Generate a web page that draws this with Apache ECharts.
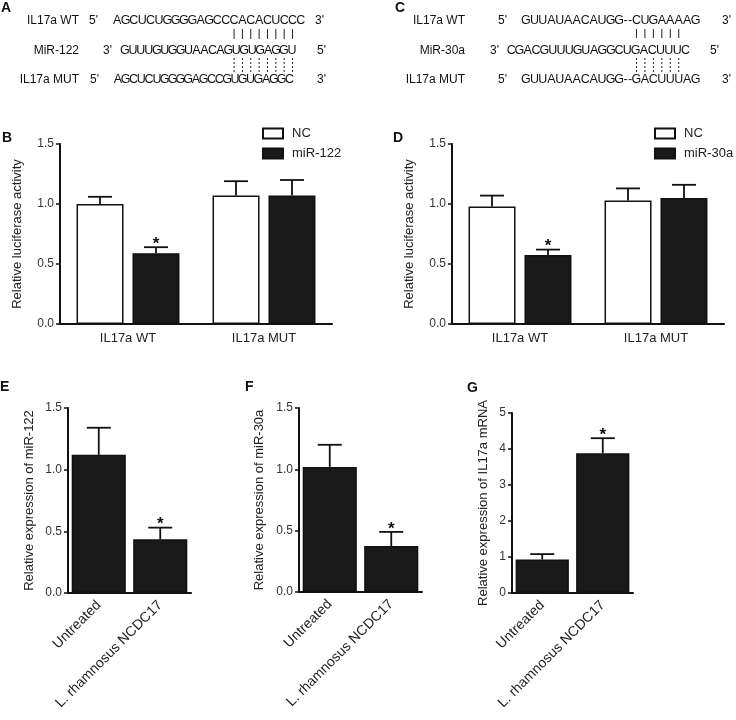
<!DOCTYPE html>
<html>
<head>
<meta charset="utf-8">
<script src="https://cdn.jsdelivr.net/npm/echarts@6/dist/echarts.min.js"></script>
<style>
    html, body { margin: 0; background: #fff; }
    #chart { width: 736px; height: 720px; }
</style>
</head>
<body>
<div id="chart"></div>
<script>
// ---- data ----
const lucCategories = ['IL17a WT', 'IL17a MUT'];
const exprCategories = ['Untreated', 'L. rhamnosus NCDC17'];

// panel B
const ncB = [1.00, 1.07];
const ncBErr = [0.06, 0.12];
const mir122B = [0.59, 1.07];
const mir122BErr = [0.05, 0.13];
const mir122BStar = [1, 0];

// panel D
const ncD = [0.98, 1.03];
const ncDErr = [0.09, 0.10];
const mir30aD = [0.575, 1.05];
const mir30aDErr = [0.045, 0.11];
const mir30aDStar = [1, 0];

// panel E, F, G
const mir122E = [1.12, 0.435];
const mir122EErr = [0.22, 0.095];
const mir30aF = [1.02, 0.375];
const mir30aFErr = [0.18, 0.115];
const il17aG = [0.93, 3.88];
const il17aGErr = [0.15, 0.42];
const starEFG = [0, 1];

// sequences
const seqA_wt = 'AGCUCUGGGGAGCCCACACUCCC';
const seqA_mir = 'GUUUGUGGUAACAGUGUGAGGU';
const seqA_mut = 'AGCUCUGGGGAGCCGUGUGAGGC';
const pairA = [14, 21];
const seqC_wt = 'GUUAUAACAUGG--CUGAAAAG';
const seqC_mir = 'CGACGUUUGUAGGCUGACUUUC';
const seqC_mut = 'GUUAUAACAUGG--GACUUUAG';
const pairC = [14, 19];

// ---- style ----
const FONT = '"Liberation Sans", Arial, sans-serif';
const INK = '#111';
const BAR_W = 47, BAR_GAP = 9, CAP = 24;

const myChart = echarts.init(document.getElementById('chart'));

function txt(text, x, y, opt) {
    return {
        type: 'text', x: x, y: y, silent: true,
        style: Object.assign({
            text: text, fill: INK, fontSize: 12, fontFamily: FONT,
            align: 'left', verticalAlign: 'middle'
        }, opt || {})
    };
}

// one text element per letter, so the pairing lines can sit on the letters
function seqRow(str, x0, y, pitch, dashPitch) {
    const els = [], centers = [];
    let x = x0;
    for (const ch of str) {
        const w = ch === '-' ? dashPitch : pitch;
        centers.push(x + w / 2);
        els.push(txt(ch, x + w / 2, y, {align: 'center', fontSize: 12.5}));
        x += w;
    }
    return {els, centers};
}

function pairLines(centers, range, y1, y2, dashed) {
    const out = [];
    for (let i = range[0]; i <= range[1]; i++) {
        out.push({
            type: 'line', silent: true,
            shape: {x1: centers[i], y1: y1, x2: centers[i], y2: y2},
            style: {stroke: '#222', lineWidth: 1, lineDash: dashed ? [2, 2] : null}
        });
    }
    return out;
}

// panel A sequences
const aWt = seqRow(seqA_wt, 113, 21, 8.35, 8.35);
const aMir = seqRow(seqA_mir, 121, 51, 7.95, 7.95);
const aMut = seqRow(seqA_mut, 114, 80, 7.8, 7.8);
// panel C sequences
const cWt = seqRow(seqC_wt, 521.7, 21, 8.46, 4.5);
const cMir = seqRow(seqC_mir, 507, 51, 8.3, 8.3);
const cMut = seqRow(seqC_mut, 521.7, 80, 8.46, 4.5);

const bold = {fontSize: 14, fontWeight: 'bold'};
const graphics = [].concat(
    aWt.els, aMir.els, aMut.els, cWt.els, cMir.els, cMut.els,
    pairLines(aWt.centers, pairA, 29, 39, false),
    pairLines(aWt.centers, pairA, 58, 73, true),
    pairLines(cWt.centers, pairC, 29, 38, false),
    pairLines(cWt.centers, pairC, 58, 73, true),
    [
        txt('A', 1, 8, bold),
        txt('C', 395, 8, bold),
        txt('B', 2, 138, bold),
        txt('D', 393, 138, bold),
        txt('E', 0, 387, bold),
        txt('F', 245, 387, bold),
        txt('G', 467, 388, bold),

        txt('IL17a WT', 79, 21, {align: 'right'}),
        txt('MiR-122', 79, 51, {align: 'right'}),
        txt('IL17a MUT', 79, 80, {align: 'right'}),
        txt("5'", 89, 21), txt("3'", 315, 21),
        txt("3'", 103, 51), txt("5'", 317, 51),
        txt("5'", 90, 80), txt("3'", 317, 80),

        txt('IL17a WT', 465, 21, {align: 'right'}),
        txt('MiR-30a', 465, 51, {align: 'right'}),
        txt('IL17a MUT', 465, 80, {align: 'right'}),
        txt("5'", 498, 21), txt("3'", 722, 21),
        txt("3'", 490, 51), txt("5'", 710, 51),
        txt("5'", 498, 80), txt("3'", 722, 80)
    ]
);

// ---- axes ----
const axisLine = {lineStyle: {color: INK, width: 2}};
const axisTick = {length: 4, lineStyle: {color: INK, width: 1.5}};

function yAxis(gi, max, interval, name, gap, digits) {
    return {
        type: 'value', gridIndex: gi, min: 0, max: max, interval: interval,
        name: name, nameLocation: 'middle', nameGap: gap,
        nameTextStyle: {fontSize: 13, color: '#222', fontFamily: FONT},
        axisLine: Object.assign({show: true}, axisLine),
        axisTick: Object.assign({show: true}, axisTick),
        axisLabel: {
            fontSize: 12, color: '#333', fontFamily: FONT, margin: 6,
            formatter: v => v.toFixed(digits)
        },
        splitLine: {show: false}
    };
}

function xAxis(gi, cats, rotate) {
    return {
        type: 'category', gridIndex: gi, data: cats,
        axisLine: axisLine,
        axisTick: Object.assign({alignWithLabel: true}, axisTick),
        axisLabel: {
            fontSize: rotate ? 14 : 13, color: '#222', fontFamily: FONT,
            margin: rotate ? 10 : 8, rotate: rotate, interval: 0
        }
    };
}

// ---- series ----
function barSeries(gi, name, data, fill, width, gap) {
    return {
        type: 'bar', name: name, xAxisIndex: gi, yAxisIndex: gi,
        data: data, barWidth: width, barGap: gap,
        itemStyle: {color: fill, borderColor: INK, borderWidth: 1.5},
        silent: true
    };
}

// upper error bar (mean .. mean + sem) with cap, optional asterisk
function errSeries(gi, means, errs, stars, off) {
    return {
        type: 'custom', xAxisIndex: gi, yAxisIndex: gi, z: 5, silent: true,
        data: means.map((m, i) => [i, m, errs[i], stars ? stars[i] : 0]),
        renderItem: (params, api) => {
            const base = api.coord([api.value(0), api.value(1)]);
            const top = api.coord([api.value(0), api.value(1) + api.value(2)]);
            const x = base[0] + off;
            const ls = {stroke: INK, lineWidth: 1.8};
            const children = [
                {type: 'line', shape: {x1: x, y1: base[1], x2: x, y2: top[1]}, style: ls},
                {type: 'line', shape: {x1: x - CAP / 2, y1: top[1], x2: x + CAP / 2, y2: top[1]}, style: ls}
            ];
            if (api.value(3)) {
                children.push({
                    type: 'text', x: x, y: top[1] - 3,
                    style: {text: '*', fontSize: 17, fontWeight: 'bold', fontFamily: FONT,
                        fill: INK, align: 'center', verticalAlign: 'middle'}
                });
            }
            return {type: 'group', children: children};
        }
    };
}

const off = (BAR_W + BAR_GAP) / 2;
const gapPct = Math.round(BAR_GAP / BAR_W * 100) + '%';

const legendBase = {
    orient: 'vertical', itemWidth: 20, itemHeight: 10, itemGap: 7, padding: 0,
    icon: 'rect', selectedMode: false,
    textStyle: {fontSize: 13, color: '#222', fontFamily: FONT, padding: [0, 0, 0, 4]}
};

const option = {
    animation: false,
    backgroundColor: '#fff',
    textStyle: {fontFamily: FONT},
    grid: [
        {left: 60, top: 144, width: 272, height: 180},
        {left: 452, top: 144, width: 272, height: 180},
        {left: 68, top: 408, width: 123, height: 185},
        {left: 299, top: 408, width: 123, height: 184},
        {left: 512, top: 413, width: 121, height: 180}
    ],
    legend: [
        Object.assign({left: 262, top: 127, data: ['NC', 'miR-122']}, legendBase),
        Object.assign({left: 654, top: 127, data: ['NC', 'miR-30a']}, legendBase)
    ],
    xAxis: [
        xAxis(0, lucCategories, 0),
        xAxis(1, lucCategories, 0),
        xAxis(2, exprCategories, 45),
        xAxis(3, exprCategories, 45),
        xAxis(4, exprCategories, 45)
    ],
    yAxis: [
        yAxis(0, 1.5, 0.5, 'Relative luciferase activity', 36, 1),
        yAxis(1, 1.5, 0.5, 'Relative luciferase activity', 36, 1),
        yAxis(2, 1.5, 0.5, 'Relative expression of miR-122', 32, 1),
        yAxis(3, 1.5, 0.5, 'Relative expression of miR-30a', 33, 1),
        yAxis(4, 5, 1, 'Relative expression of IL17a mRNA', 22, 0)
    ],
    series: [
        barSeries(0, 'NC', ncB, '#fff', BAR_W, gapPct),
        barSeries(0, 'miR-122', mir122B, '#1a1a1a', BAR_W, gapPct),
        errSeries(0, ncB, ncBErr, null, -off),
        errSeries(0, mir122B, mir122BErr, mir122BStar, off),

        barSeries(1, 'NC', ncD, '#fff', BAR_W, gapPct),
        barSeries(1, 'miR-30a', mir30aD, '#1a1a1a', BAR_W, gapPct),
        errSeries(1, ncD, ncDErr, null, -off),
        errSeries(1, mir30aD, mir30aDErr, mir30aDStar, off),

        barSeries(2, 'miR-122 expr', mir122E, '#1a1a1a', '88%'),
        errSeries(2, mir122E, mir122EErr, starEFG, 0),
        barSeries(3, 'miR-30a expr', mir30aF, '#1a1a1a', '88%'),
        errSeries(3, mir30aF, mir30aFErr, starEFG, 0),
        barSeries(4, 'IL17a expr', il17aG, '#1a1a1a', '88%'),
        errSeries(4, il17aG, il17aGErr, starEFG, 0)
    ],
    graphic: graphics
};

myChart.setOption(option);
</script>
</body>
</html>
